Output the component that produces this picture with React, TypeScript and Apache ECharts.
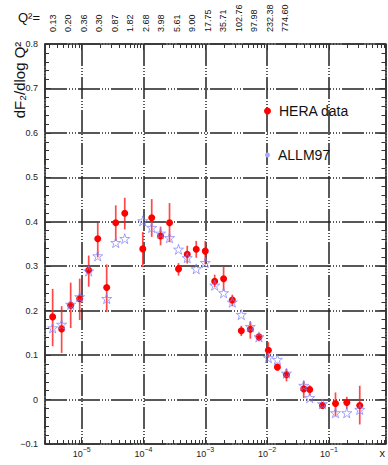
import React, { useEffect, useRef } from 'react';
import * as echarts from 'echarts';

// Bjorken x of each bin
const xValues = [
  3.39e-6, 4.74e-6, 6.64e-6, 9.29e-6, 1.3e-5, 1.82e-5, 2.54e-5, 3.56e-5, 4.98e-5,
  9.75e-5, 1.36e-4, 1.89e-4, 2.64e-4, 3.69e-4, 5.11e-4, 7.14e-4, 1.0e-3, 1.42e-3,
  1.98e-3, 2.74e-3, 3.83e-3, 5.36e-3, 7.4e-3, 1.05e-2, 1.47e-2, 2.06e-2, 3.92e-2,
  4.9e-2, 7.87e-2, 0.128, 0.195, 0.316,
];
// HERA data: central value, lower and upper end of the error bar
const heraValues = [
  0.186, 0.159, 0.212, 0.227, 0.291, 0.362, 0.252, 0.398, 0.419, 0.339, 0.409, 0.368,
  0.398, 0.294, 0.327, 0.338, 0.334, 0.266, 0.272, 0.224, 0.155, 0.158, 0.141, 0.111,
  0.073, 0.056, 0.024, 0.0225, -0.0135, -0.009, -0.0068, -0.0135,
];
const heraLow = [
  0.12, 0.105, 0.161, 0.179, 0.254, 0.32, 0.197, 0.357, 0.383, 0.298, 0.366, 0.347,
  0.354, 0.279, 0.306, 0.319, 0.304, 0.253, 0.245, 0.21, 0.143, 0.137, 0.131, 0.094,
  0.066, 0.041, 0.003, 0.009, -0.021, -0.038, -0.021, -0.056,
];
const heraHigh = [
  0.249, 0.21, 0.263, 0.272, 0.324, 0.398, 0.304, 0.437, 0.454, 0.377, 0.451, 0.389,
  0.442, 0.307, 0.346, 0.357, 0.357, 0.281, 0.299, 0.236, 0.166, 0.176, 0.15, 0.129,
  0.08, 0.069, 0.042, 0.032, -0.006, 0.016, 0.006, 0.031,
];
// ALLM97 parametrisation
const allmValues = [
  0.161, 0.169, 0.214, 0.231, 0.289, 0.323, 0.227, 0.353, 0.362, 0.402, 0.387, 0.374,
  0.364, 0.338, 0.319, 0.294, 0.308, 0.257, 0.24, 0.219, 0.191, 0.164, 0.141, 0.094,
  0.09, 0.059, 0.0315, 0.004, -0.0097, -0.03, -0.03, -0.0225,
];
// Q^2 tick labels along the top
const q2Labels = [
  '0.13', '0.20', '0.36', '0.30', '0.87', '1.82', '2.68', '3.98', '5.61', '9.00',
  '17.75', '35.71', '102.76', '97.98', '232.38', '774.60',
];
const q2Slots = 22;

const STAR =
  'path://M50,0L61.8,35.1L98.9,35.1L69.1,56.7L80.9,91.9L50,70.2L19.1,91.9L30.9,56.7L1.1,35.1L38.2,35.1Z';

export default function App() {
  const ref = useRef<HTMLDivElement>(null);
  useEffect(() => {
    const chart = echarts.init(ref.current!, null, { renderer: 'svg' });
    const grid = { left: 45, right: 2, top: 44, bottom: 21 };
    const axisColor = '#333';
    const narrow = "'Liberation Sans Narrow', 'Liberation Sans', Arial, sans-serif";
    const sans = "'Liberation Sans', Arial, sans-serif";
    const gridDash = [22, 2, 1, 2, 1, 2, 1, 2];
    const xMin = 2.55e-6;
    const xMax = 0.825;
    const frameLine = { show: true, onZero: false, lineStyle: { color: axisColor, width: 1.6 } };
    const tick = { show: true, inside: true, length: 6, lineStyle: { color: axisColor, width: 1 } };
    const q2Cats = Array.from({ length: q2Slots }, (_, i) => String(i));

    chart.setOption({
      animation: false,
      backgroundColor: '#fff',
      grid: [{ ...grid }, { ...grid }],
      legend: [
        {
          data: ['HERA data'],
          left: 264,
          top: 104,
          padding: 0,
          icon: 'circle',
          itemWidth: 7,
          itemHeight: 7,
          textStyle: { fontSize: 14, fontFamily: sans, color: '#111', padding: [0, 0, 0, 3] },
        },
        {
          data: ['ALLM97'],
          left: 265,
          top: 148,
          padding: 0,
          icon: 'circle',
          itemWidth: 5,
          itemHeight: 5,
          itemStyle: { color: '#a8a8ff', borderWidth: 0, opacity: 1 },
          textStyle: { fontSize: 14, fontFamily: sans, color: '#111', padding: [0, 0, 0, 3] },
        },
      ],
      xAxis: [
        {
          type: 'log',
          logBase: 10,
          gridIndex: 0,
          position: 'bottom',
          min: xMin,
          max: xMax,
          axisLine: frameLine,
          axisTick: tick,
          minorTick: { show: true, splitNumber: 9, length: 4, lineStyle: { color: axisColor, width: 1 } },
          splitLine: { show: true, lineStyle: { color: '#222', width: 1.5, type: gridDash } },
          axisLabel: {
            margin: 2,
            color: '#222',
            fontFamily: narrow,
            showMinLabel: false,
            showMaxLabel: false,
            formatter: (v: number) => {
              const l = Math.log10(v);
              const e = Math.round(l);
              if (Math.abs(l - e) > 1e-6) return '';
              return `{b|10}{e|${e < 0 ? '\u2212' : ''}${Math.abs(e)}}`;
            },
            rich: {
              b: { fontSize: 9, fontFamily: narrow, color: '#222', verticalAlign: 'bottom' },
              e: { fontSize: 7, fontFamily: narrow, color: '#222', verticalAlign: 'top', padding: [0, 0, 5, 0] },
            },
          },
          name: 'x',
          nameLocation: 'end',
          nameGap: -6,
          nameTextStyle: { fontSize: 11, fontFamily: sans, color: '#222', verticalAlign: 'top', padding: [3, 0, 0, 0] },
        },
        {
          type: 'log',
          logBase: 10,
          gridIndex: 0,
          position: 'top',
          min: xMin,
          max: xMax,
          axisLine: frameLine,
          axisTick: tick,
          minorTick: { show: true, splitNumber: 9, length: 4, lineStyle: { color: axisColor, width: 1 } },
          splitLine: { show: false },
          axisLabel: { show: false },
        },
        {
          type: 'category',
          gridIndex: 1,
          position: 'top',
          data: q2Cats,
          boundaryGap: true,
          axisLine: { show: false },
          axisTick: { show: false },
          splitLine: { show: false },
          axisLabel: {
            interval: 0,
            rotate: 90,
            margin: 12,
            fontSize: 9,
            fontFamily: narrow,
            color: '#111',
            formatter: (_v: string, idx: number) => q2Labels[idx] ?? '',
          },
        },
      ],
      yAxis: [
        {
          type: 'value',
          gridIndex: 0,
          position: 'left',
          min: -0.1,
          max: 0.8,
          interval: 0.1,
          axisLine: frameLine,
          axisTick: tick,
          minorTick: { show: true, splitNumber: 5, length: 4, lineStyle: { color: axisColor, width: 1 } },
          splitLine: { show: true, lineStyle: { color: '#222', width: 1.5, type: gridDash } },
          axisLabel: {
            margin: 7,
            fontSize: 9,
            fontFamily: narrow,
            color: '#222',
            formatter: (v: number) => (Math.abs(v) < 1e-9 ? '0' : v.toFixed(1).replace('-', '\u2212')),
          },
        },
        {
          type: 'value',
          gridIndex: 0,
          position: 'right',
          min: -0.1,
          max: 0.8,
          interval: 0.1,
          axisLine: frameLine,
          axisTick: tick,
          minorTick: { show: true, splitNumber: 5, length: 4, lineStyle: { color: axisColor, width: 1 } },
          splitLine: { show: false },
          axisLabel: { show: false },
        },
        { type: 'value', gridIndex: 1, show: false },
      ],
      series: [
        {
          name: 'HERA errors',
          type: 'custom',
          xAxisIndex: 0,
          yAxisIndex: 0,
          silent: true,
          z: 3,
          data: xValues.map((x, i) => [x, heraLow[i], heraHigh[i]]),
          encode: { x: 0, y: [1, 2] },
          renderItem: (_p: any, api: any) => {
            const a = api.coord([api.value(0), api.value(1)]);
            const b = api.coord([api.value(0), api.value(2)]);
            return {
              type: 'line',
              shape: { x1: a[0], y1: a[1], x2: b[0], y2: b[1] },
              style: { stroke: '#ff1a1a', lineWidth: 1.7, opacity: 0.8 },
            };
          },
        },
        {
          name: 'HERA data',
          type: 'scatter',
          xAxisIndex: 0,
          yAxisIndex: 0,
          symbol: 'circle',
          symbolSize: 7,
          z: 4,
          itemStyle: { color: '#ff0000', opacity: 1 },
          data: xValues.map((x, i) => [x, heraValues[i]]),
        },
        {
          name: 'ALLM97',
          type: 'scatter',
          xAxisIndex: 0,
          yAxisIndex: 0,
          symbol: STAR,
          symbolSize: 10,
          z: 5,
          itemStyle: { color: 'rgba(0,0,0,0)', borderColor: '#7f7fff', borderWidth: 0.9, opacity: 0.8 },
          data: xValues.map((x, i) => [x, allmValues[i]]),
        },
      ],
      graphic: [
        {
          type: 'text',
          x: 19,
          y: 80,
          rotation: Math.PI / 2,
          style: {
            text: 'dF\u2082/dlog Q\u00b2',
            fontSize: 15,
            fontFamily: sans,
            fill: '#111',
            align: 'center',
            verticalAlign: 'middle',
            textAlign: 'center',
            textVerticalAlign: 'middle',
          },
        },
        {
          type: 'text',
          x: 18,
          y: 17,
          style: {
            text: 'Q\u00b2=',
            fontSize: 13,
            fontFamily: sans,
            fill: '#111',
            verticalAlign: 'middle',
            textVerticalAlign: 'middle',
          },
        },
      ],
    });
    return () => chart.dispose();
  }, []);
  return (
    <div
      ref={ref}
      style={{ position: 'fixed', left: 0, top: 0, width: 388, height: 465, background: '#fff' }}
    />
  );
}
